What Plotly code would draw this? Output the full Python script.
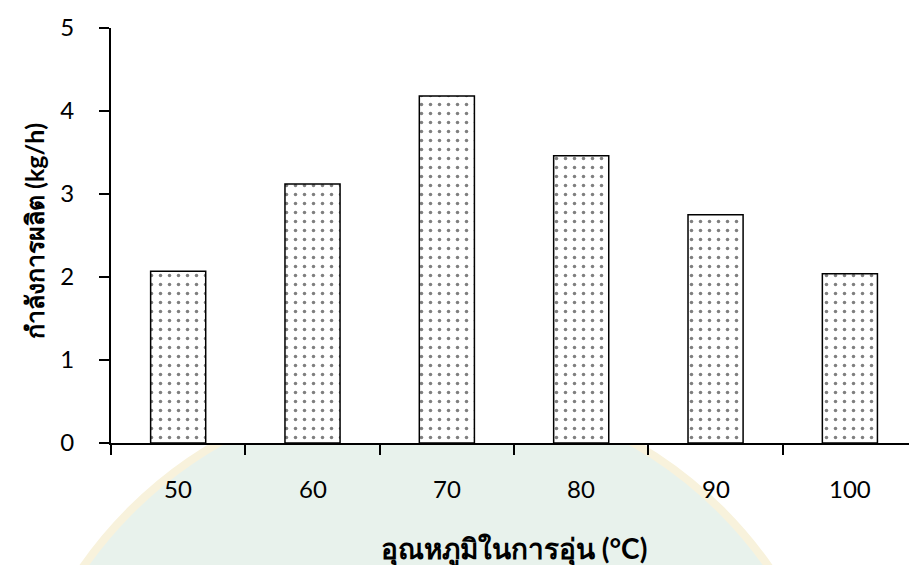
import plotly.graph_objects as go

# Drying temperature categories and production rate
temperatures = ["50", "60", "70", "80", "90", "100"]
rates = [2.07, 3.12, 4.18, 3.46, 2.75, 2.04]
y_ticks = [0, 1, 2, 3, 4, 5]

x_title = "อุณหภูมิในการอุ่น (°C)"
y_title = "กำลังการผลิต (kg/h)"

FONT = "Lato, Open Sans, sans-serif"

# plot area in pixels
L, R, T, B = 111, 909, 28, 443
PW, PH = R - L, B - T


def px_x(p):
    return (p - L) / PW


def px_y(p):
    return (B - p) / PH


fig = go.Figure()
fig.add_trace(go.Bar(
    x=list(range(len(temperatures))),
    y=rates,
    width=0.41,
    marker=dict(
        color="white",
        line=dict(color="black", width=1.5),
        pattern=dict(shape=".", size=9, solidity=0.12,
                     fgcolor="#000000", bgcolor="white", fillmode="overlay"),
    ),
    showlegend=False,
    hoverinfo="skip",
))

# faint seal in the background below the axis
cx, cy, rad = 426, 806, 418
fig.add_shape(type="circle", xref="paper", yref="paper",
              x0=px_x(cx - rad), x1=px_x(cx + rad),
              y0=px_y(cy + rad), y1=px_y(cy - rad),
              fillcolor="#e8f2ec", line=dict(color="#f8f2dc", width=8), layer="below")
# white plotting area on top of the seal
fig.add_shape(type="rect", xref="paper", yref="paper", x0=0, x1=1, y0=0, y1=1.2,
              fillcolor="white", line=dict(width=0), layer="below")

fig.update_layout(
    width=909, height=565,
    margin=dict(l=L, r=909 - R, t=T, b=565 - B),
    paper_bgcolor="white",
    plot_bgcolor="rgba(0,0,0,0)",
    font=dict(family=FONT, size=24, color="black"),
    xaxis=dict(
        range=[-0.5, 5.44],
        tickmode="array",
        tickvals=[i + 0.5 for i in range(-1, 5)],
        ticktext=["" for _ in range(6)],
        ticks="outside", ticklen=10, tickwidth=2, tickcolor="black",
        showline=True, linecolor="black", linewidth=2,
        showgrid=False, zeroline=False,
    ),
    yaxis=dict(
        range=[0, 5],
        tickvals=y_ticks,
        ticks="outside", ticklen=10, tickwidth=2, tickcolor="black",
        ticklabelstandoff=20,
        showline=True, linecolor="black", linewidth=2,
        showgrid=False, zeroline=False,
        tickfont=dict(size=24),
    ),
)

# category labels centred under each bar
for i, t in enumerate(temperatures):
    fig.add_annotation(x=i, xref="x", y=0, yref="paper", yshift=-45,
                       text=t, showarrow=False, font=dict(size=24),
                       yanchor="middle")

fig.add_annotation(x=2.5, xref="x", y=0, yref="paper", yshift=-106,
                   text=x_title, showarrow=False, yanchor="middle",
                   font=dict(size=28, family="Lato, Noto Sans, sans-serif", weight="bold"))
fig.add_annotation(x=px_x(34), xref="paper", y=px_y(231), yref="paper",
                   text=y_title, showarrow=False, textangle=-90,
                   xanchor="center", yanchor="middle",
                   font=dict(size=25, family="Lato, Noto Sans, sans-serif", weight="bold"))

fig.write_html("out.html")
